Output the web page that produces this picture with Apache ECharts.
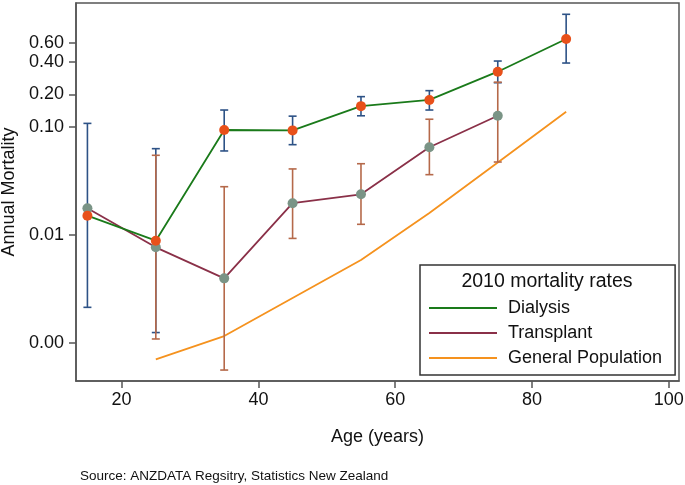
<!DOCTYPE html>
<html><head><meta charset="utf-8">
<script src="https://cdn.jsdelivr.net/npm/echarts@6/dist/echarts.min.js"></script>
<style>html,body{margin:0;padding:0;background:#fff}#c{width:685px;height:485px}</style>
</head><body><div id="c"></div>
<script>
// ---- data ----
const ages = [15, 25, 35, 45, 55, 65, 75, 85];
const dialysis      = [0.0151, 0.00886, 0.0938, 0.093, 0.156, 0.178, 0.325, 0.653];
const dialysisLow   = [0.00214, 0.00125, 0.060, 0.0686, 0.127, 0.1436, 0.257, 0.391];
const dialysisHigh  = [0.108, 0.063, 0.1436, 0.126, 0.191, 0.217, 0.408, 1.105];
const transplantAges = [15, 25, 35, 45, 55, 65, 75];
const transplant     = [0.01766, 0.00769, 0.00397, 0.0197, 0.0238, 0.0649, 0.127];
const transplantLow  = [null, 0.00109, 0.000562, 0.0093, 0.01256, 0.0362, 0.0474];
const transplantHigh = [null, 0.0547, 0.028, 0.0409, 0.0457, 0.118, 0.26];
const generalAges = [25, 35, 45, 55, 65, 75, 85];
const generalPop  = [0.000706, 0.00116, 0.00261, 0.00587, 0.016, 0.0469, 0.1386];
const xTicks = [20, 40, 60, 80, 100];
const yTicks = [0.001, 0.01, 0.1, 0.2, 0.4, 0.6];
const seriesNames = ['Dialysis', 'Transplant', 'General Population'];
const legendTitle = '2010 mortality rates';
const xTitle = 'Age (years)';
const yTitle = 'Annual Mortality';
const sourceText = 'Source: ANZDATA Regsitry, Statistics New Zealand';

const FONT = 'Liberation Sans, Arial, Helvetica, sans-serif';
const chart = echarts.init(document.getElementById('c'), null, {renderer: 'canvas'});

function errSeries(xs, lo, hi, color) {
  const data = [];
  xs.forEach((x, i) => { if (lo[i] != null) data.push([x, lo[i], hi[i]]); });
  return {
    type: 'custom', silent: true, z: 2,
    data: data,
    encode: {x: 0, y: [1, 2]},
    renderItem(params, api) {
      const x = api.value(0);
      const p1 = api.coord([x, api.value(1)]);
      const p2 = api.coord([x, api.value(2)]);
      const w = 4;
      const st = {stroke: color, lineWidth: 1.6};
      return {type: 'group', children: [
        {type: 'line', shape: {x1: p1[0], y1: p1[1], x2: p2[0], y2: p2[1]}, style: st},
        {type: 'line', shape: {x1: p1[0] - w, y1: p1[1], x2: p1[0] + w, y2: p1[1]}, style: st},
        {type: 'line', shape: {x1: p2[0] - w, y1: p2[1], x2: p2[0] + w, y2: p2[1]}, style: st}
      ]};
    }
  };
}

const axisCol = '#555';
const option = {
  animation: false,
  textStyle: {fontFamily: FONT},
  grid: {left: 76, top: 3, right: 6, bottom: 104, show: true, borderColor: axisCol, borderWidth: 1.5,
         containLabel: false, outerBoundsMode: 'none'},
  xAxis: {
    type: 'value', min: 13.33, max: 101.5,
    name: xTitle, nameLocation: 'middle', nameGap: 47,
    nameTextStyle: {fontSize: 18, color: '#111', fontFamily: FONT},
    axisLine: {show: true, lineStyle: {color: axisCol, width: 1.5}},
    axisTick: {show: true, inside: false, length: 7, lineStyle: {color: axisCol, width: 1.5}, customValues: xTicks},
    axisLabel: {fontSize: 18, color: '#111', margin: 10, customValues: xTicks, fontFamily: FONT},
    splitLine: {show: false}
  },
  yAxis: {
    type: 'log', logBase: 10, min: 0.000445, max: 1.406,
    name: yTitle, nameLocation: 'middle', nameGap: 51,
    nameTextStyle: {fontSize: 18, color: '#111', fontFamily: FONT},
    axisLine: {show: true, lineStyle: {color: axisCol, width: 1.5}},
    axisTick: {show: true, inside: false, length: 7, lineStyle: {color: axisCol, width: 1.5}, customValues: yTicks},
    axisLabel: {fontSize: 18, color: '#111', margin: 12, customValues: yTicks, fontFamily: FONT,
      formatter: v => Number(v).toFixed(2)},
    splitLine: {show: false}, minorTick: {show: false}
  },
  legend: {
    data: seriesNames, orient: 'vertical', left: 420, top: 265,
    padding: [34, 13, 8, 8], itemWidth: 68, itemHeight: 18, itemGap: 7,
    borderColor: '#333', borderWidth: 1.5, backgroundColor: '#fff',
    itemStyle: {opacity: 0},
    textStyle: {fontSize: 18, color: '#111', fontFamily: FONT, padding: [0, 0, 0, 6]},
    selectedMode: false
  },
  graphic: [
    {type: 'text', x: 547, y: 282, z: 100, style: {text: legendTitle, fontSize: 19.5, fontFamily: FONT, fill: '#111', textAlign: 'center', textVerticalAlign: 'middle'}},
    {type: 'text', x: 80, y: 476, style: {text: sourceText, fontSize: 13.5, fontFamily: FONT, fill: '#111', textAlign: 'left', textVerticalAlign: 'middle'}}
  ],
  series: [
    {
      name: seriesNames[2], type: 'line', z: 1,
      data: generalAges.map((a, i) => [a, generalPop[i]]),
      symbol: 'none', smooth: false,
      lineStyle: {color: '#f5921e', width: 1.8}, itemStyle: {color: '#f5921e'}
    },
    errSeries(ages, dialysisLow, dialysisHigh, '#2d5286'),
    errSeries(transplantAges, transplantLow, transplantHigh, '#b5694a'),
    {
      name: seriesNames[1], type: 'line', z: 3,
      data: transplantAges.map((a, i) => [a, transplant[i]]),
      symbol: 'circle', symbolSize: 10, showAllSymbol: true,
      lineStyle: {color: '#8a3048', width: 1.8}, itemStyle: {color: '#7a9486'}
    },
    {
      name: seriesNames[0], type: 'line', z: 4,
      data: ages.map((a, i) => [a, dialysis[i]]),
      symbol: 'circle', symbolSize: 10, showAllSymbol: true,
      lineStyle: {color: '#1a7a1a', width: 1.8}, itemStyle: {color: '#e8501a'}
    }
  ]
};
chart.setOption(option);
</script>
</body></html>
